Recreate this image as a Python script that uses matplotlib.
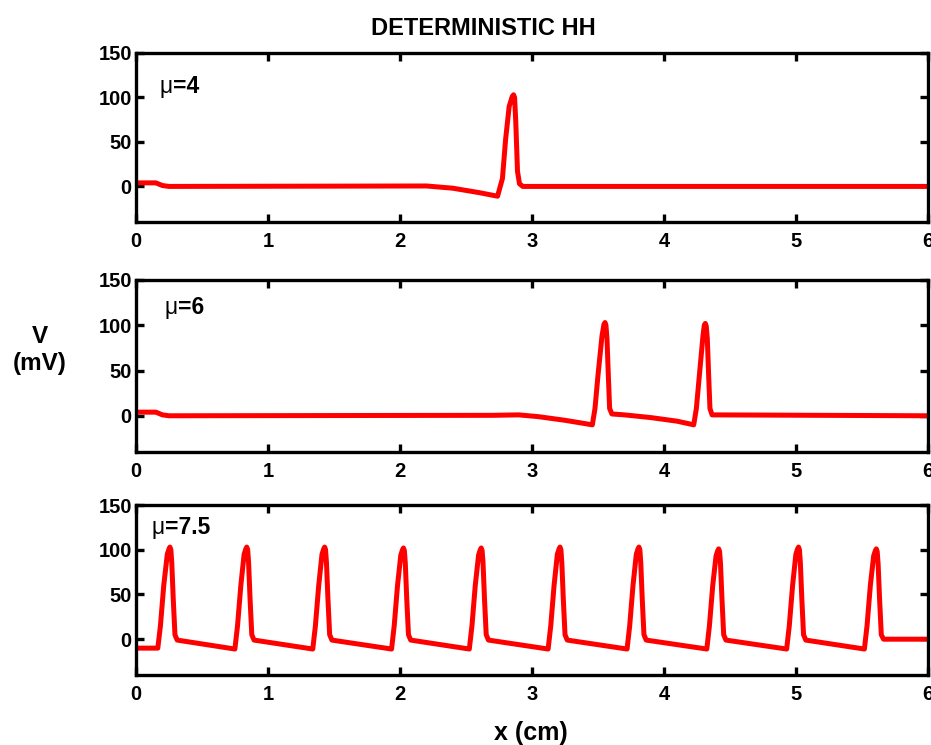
import matplotlib
matplotlib.use("Agg")
import matplotlib.pyplot as plt

plt.rcParams['font.family'] = ['Liberation Sans', 'DejaVu Sans']
plt.rcParams['font.weight'] = 'bold'

# membrane potential along the axon, one trace per stimulus level
x_mu4 = [0.0, 0.15, 0.20, 0.25, 2.20, 2.40, 2.60, 2.739, 2.776, 2.80, 2.827,
         2.850, 2.86, 2.868, 2.877, 2.89, 2.905, 2.93, 6.0]
v_mu4 = [4, 4, 1, 0, 0.5, -2, -7, -11, 9, 53, 90,
         101, 103, 100, 72, 17, 3, 0, 0]

x_mu6 = [0.0, 0.15, 0.20, 0.25, 2.70, 2.90, 3.05, 3.25, 3.457, 3.477, 3.50,
         3.53, 3.545, 3.553, 3.560, 3.568, 3.578, 3.588, 3.605, 3.70, 3.90,
         4.10, 4.225, 4.245, 4.268, 4.295, 4.305, 4.313, 4.320, 4.328, 4.338,
         4.348, 4.364, 6.0]
v_mu6 = [4, 4, 1, 0, 0.5, 1, -1, -5, -10, 8, 45,
         88, 101, 103, 100, 85, 45, 8, 2, 1, -2,
         -6, -10, 8, 45, 88, 100, 102, 99, 85, 45,
         8, 1, 0]

x_mu75 = [0.0, 0.165, 0.185, 0.21, 0.237, 0.250, 0.257, 0.264, 0.271, 0.282, 0.295, 0.312,
          0.749, 0.769, 0.794, 0.819, 0.832, 0.839, 0.846, 0.853, 0.864, 0.877, 0.894,
          1.339, 1.359, 1.384, 1.409, 1.422, 1.429, 1.436, 1.443, 1.454, 1.467, 1.484,
          1.936, 1.956, 1.981, 2.006, 2.019, 2.026, 2.033, 2.040, 2.051, 2.064, 2.081,
          2.525, 2.545, 2.570, 2.595, 2.608, 2.615, 2.622, 2.629, 2.640, 2.653, 2.670,
          3.122, 3.142, 3.167, 3.192, 3.205, 3.212, 3.219, 3.226, 3.237, 3.250, 3.267,
          3.720, 3.740, 3.765, 3.790, 3.803, 3.810, 3.817, 3.824, 3.835, 3.848, 3.865,
          4.324, 4.344, 4.369, 4.394, 4.407, 4.414, 4.421, 4.428, 4.439, 4.452, 4.469,
          4.929, 4.949, 4.974, 4.999, 5.012, 5.019, 5.026, 5.033, 5.044, 5.057, 5.074,
          5.518, 5.538, 5.563, 5.588, 5.601, 5.608, 5.615, 5.622, 5.633, 5.646, 5.663, 6.0]
v_mu75 = [-10, -10, 15, 60, 95, 101, 103, 100, 85, 45, 5, -1,
          -11, 15, 60, 95, 101, 103, 100, 85, 45, 5, -1,
          -11, 15, 60, 95, 101, 103, 100, 85, 45, 5, -1,
          -11, 15, 60, 94, 100, 102, 99, 85, 45, 5, -1,
          -11, 15, 60, 94, 100, 102, 99, 85, 45, 5, -1,
          -11, 15, 60, 95, 101, 103, 100, 85, 45, 5, -1,
          -11, 15, 60, 95, 101, 103, 100, 85, 45, 5, -1,
          -11, 15, 60, 93, 99, 101, 98, 84, 45, 5, -1,
          -11, 15, 60, 95, 101, 103, 100, 85, 45, 5, -1,
          -11, 15, 60, 93, 99, 101, 98, 84, 45, 5, 0, 0]

mu_values = ['4', '6', '7.5']
traces = [(x_mu4, v_mu4, 0.80),
          (x_mu6, v_mu6, 0.84),
          (x_mu75, v_mu75, 0.865)]
label_x = [0.030, 0.036, 0.020]
xticks = [0, 1, 2, 3, 4, 5, 6]
yticks = [0, 50, 100, 150]

fig = plt.figure(figsize=(9.31, 7.45), dpi=100)
boxes = [(0.1461, 0.702, 0.8507, 0.2269),
         (0.1461, 0.3933, 0.8507, 0.2309),
         (0.1461, 0.094, 0.8507, 0.2281)]

for (xs, vs, ly), mu, lx, box in zip(traces, mu_values, label_x, boxes):
    ax = fig.add_axes(box)
    ax.plot(xs, vs, color='#ff0000', lw=3.6, solid_joinstyle='round',
            solid_capstyle='round')
    ax.set_xlim(0, 6)
    ax.set_ylim(-40, 150)
    ax.set_xticks(xticks)
    ax.set_yticks(yticks)
    ax.tick_params(direction='in', length=6, width=2.4, top=True, right=True,
                   labelsize=14.5, pad=3)
    ax.tick_params(axis='x', pad=7)
    for s in ax.spines.values():
        s.set_linewidth(2.4)
    for t in ax.get_xticklabels() + ax.get_yticklabels():
        t.set_fontweight('bold')
    # thin greek mu followed by the bold value
    mu_txt = ax.text(lx, ly, '\u03bc', transform=ax.transAxes, fontsize=16.5,
                     fontweight='normal', va='center', ha='left')
    ax.annotate('=' + mu, xy=(1.0, 0.5), xycoords=mu_txt, fontsize=16.5,
                fontweight='bold', va='center', ha='left')

fig.text(0.519, 0.962, 'DETERMINISTIC HH', fontsize=17, fontweight='bold',
         ha='center', va='center')
fig.text(0.043, 0.530, 'V\n(mV)', fontsize=17.5, fontweight='bold',
         ha='center', va='center', linespacing=1.25)
fig.text(0.570, 0.016, 'x (cm)', fontsize=18, fontweight='bold',
         ha='center', va='center')

fig.savefig('out.png', dpi=100)
